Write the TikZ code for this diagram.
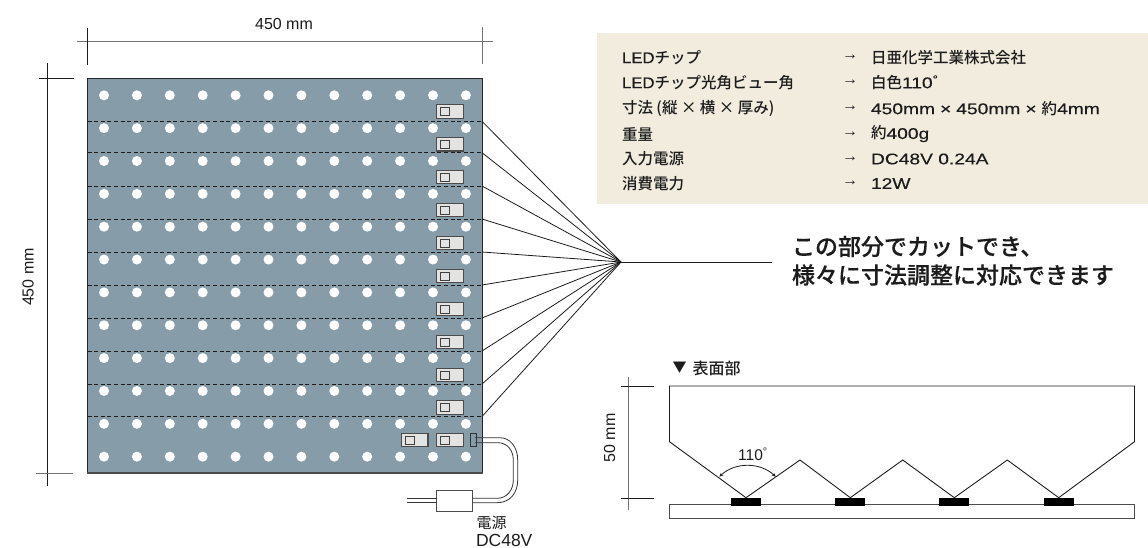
\documentclass[tikz,border=0pt]{standalone}
\usetikzlibrary{arrows.meta}
\usepackage{fontspec}
\setmainfont{Liberation Sans}
\newfontfamily\lat[FakeStretch=1.24,FakeBold=0.25]{Liberation Sans}
\newfontfamily\latb[FakeStretch=1.08,FakeBold=0.25]{Liberation Sans}
\newfontfamily\cjk{Noto Sans CJK JP}
\newfontfamily\cjkm{Noto Sans CJK JP Medium}
\newfontfamily\cjkc[FakeBold=0.35]{Noto Sans CJK JP Medium}
\definecolor{panelc}{HTML}{879CA9}
\definecolor{tablec}{HTML}{F1ECDE}
\definecolor{switchc}{HTML}{E3E3E1}
\definecolor{inkc}{HTML}{1C1C1C}
\tikzset{
  px/.style={inner sep=0pt,outer sep=0pt},
  dimtext/.style={px,font=\fontsize{16}{18}\selectfont,text=inkc},
  tabletext/.style={px,anchor=west,font=\fontsize{15.5}{17}\selectfont\lat,text=inkc},
  cutline/.style={line width=1pt,dash pattern=on 4pt off 2.6pt,draw=inkc},
  thin line/.style={line width=0.8pt,draw=inkc},
  dim grey/.style={line width=1pt,draw=black!55},
  cable/.style={line width=0.8pt,draw=black!80},
  switchbox/.style={px,draw=black!70,fill=switchc,line width=1.2pt,minimum width=26.5pt,minimum height=13.5pt},
  switchin/.style={px,draw=black!75,fill=switchc,line width=0.9pt,minimum width=9.5pt,minimum height=8pt},
  callout/.style={px,anchor=west,font=\fontsize{23}{26}\selectfont\cjkc,text=inkc},
  chip/.style={px,fill=black,minimum width=30pt,minimum height=8pt},
}
\newcommand{\tk}[1]{{\fontsize{15.5}{16}\selectfont\cjkm #1}}
\newcommand{\tx}{\hspace{5pt}×\hspace{5pt}}
\begin{document}
\begin{tikzpicture}[x=1pt,y=-1pt]
\useasboundingbox (0,0) rectangle (1148,547);
\clip (0,0) rectangle (1148,547);
% panel
\fill[panelc] (87.5,78) rectangle (482,473);
\draw[line width=0.9pt,draw=black!85] (87.5,473) -- (87.5,78) -- (482,78) -- (482,473);
\draw[line width=1.3pt,draw=black!70] (87,473) -- (482.5,473);
\foreach \i in {0,...,11}{\foreach \j in {0,...,11}{
  \fill[white] ({104+\i*32.9},{95.3+\j*32.85}) circle (5pt);
}}
% cut lines converge
\coordinate (hub) at (621,262);
\coordinate (calloutend) at (772,262);
\foreach \n/\y in {1/121.3,2/152.7,3/186,4/219,5/252,6/285,7/318,8/351,9/384,10/416.5}{
  \coordinate (L\n) at (87.5,\y);
  \coordinate (R\n) at (482,\y);
  \draw[cutline] (L\n) -- (R\n);
  \draw[thin line] (R\n) -- (hub);
}
\draw[thin line] (hub) -- (calloutend);
% switches
\foreach \n/\y in {1/111.5,2/144.2,3/177,4/210,5/243,6/276,7/309,8/342,9/375,10/407.5,11/440}{
  \node[switchbox] (sw\n) at (450,\y) {};
  \node[switchin] (si\n) at (445,\y) {};
}
\node[switchbox] (swx) at (414.7,440) {};
\node[switchin] (six) at (409.7,440) {};
% connector and cable
\node[px,draw=black!80,fill=panelc,line width=0.9pt,minimum width=6.5pt,minimum height=13.5pt] (conn) at (473.3,440) {};
\node[px,draw=black!70,fill=white,line width=0.9pt,minimum width=36pt,minimum height=21pt] (psu) at (454.5,501.2) {};
\coordinate (ca1) at (475,437.7);
\coordinate (ca2) at (475,442.7);
\coordinate (cb1) at (472.5,498.3);
\coordinate (cb2) at (472.5,502.7);
\coordinate (cc1) at (436.5,498.3);
\coordinate (cc2) at (436.5,502.3);
\coordinate (cd1) at (407,498.3);
\coordinate (cd2) at (407,502.3);
\draw[cable] (ca1) -- (500,437.7) .. controls (510,437.7) and (517.7,447) .. (517.7,460) -- (517.7,480) .. controls (517.7,493) and (510,502.7) .. (497,502.7) -- (cb2);
\draw[cable] (ca2) -- (498,442.7) .. controls (507,442.7) and (513.3,450) .. (513.3,460) -- (513.3,480) .. controls (513.3,490) and (507,498.3) .. (497,498.3) -- (cb1);
\draw[cable] (cc1) -- (cd1);
\draw[cable] (cc2) -- (cd2);
\node[px,anchor=west,font=\fontsize{15}{17}\selectfont\cjk,text=inkc] (psutext) at (476.5,523) {電源};
\node[dimtext,anchor=west,font=\fontsize{17.5}{19}\selectfont] (psuv) at (476,540.4) {DC48V};
% dim 450 top
\draw[dim grey] (77,41) -- (493,41);
\draw[thin line] (87.5,28) -- (87.5,65);
\draw[dim grey] (482,27) -- (482,64);
\node[dimtext] (dimtop) at (284,24) {450 mm};
% dim 450 left
\draw[thin line] (47.5,63) -- (47.5,486);
\draw[thin line] (39,78.5) -- (74,78.5);
\draw[dim grey] (36,473) -- (73,473);
\node[dimtext,rotate=90] (dimleft) at (28,277) {450 mm};
% table
\fill[tablec] (597,33) rectangle (1148,204);
\foreach \n/\y/\a/\b in {
 1/57.3/{{\latb LED}\tk{チップ}}/{\tk{日亜化学工業株式会社}},
 2/82.3/{{\latb LED}\tk{チップ光角ビュー角}}/{\tk{白色}110\textsuperscript{°}},
 3/108.3/{\tk{寸法 (縦 × 横 × 厚み)}}/{450mm\tx 450mm\tx\tk{約}4mm},
 4/134/{\tk{重量}}/{\tk{約}400g},
 5/159/{\tk{入力電源}}/{DC48V 0.24A},
 6/183.5/{\tk{消費電力}}/{12W}}{
  \node[tabletext] (ta\n) at (622,\y) {\a};
  \node[tabletext,font=\fontsize{16}{17}\selectfont] (tr\n) at (842,\y) {→};
  \node[tabletext] (tb\n) at (871,\y) {\b};
}
% callout
\node[callout] (c1) at (792,246.5) {この部分でカットでき、};
\node[callout] (c2) at (792,275) {様々に寸法調整に対応できます};
% section
\node[px,anchor=west,font=\fontsize{14}{16}\selectfont\cjk,text=inkc] (secm) at (672.5,368) {▼};
\node[px,anchor=west,font=\fontsize{16}{18}\selectfont\cjkm,text=inkc] (sect) at (692.5,368) {表面部};
\draw[dim grey] (628,377) -- (628,510);
\draw[thin line] (621,386) -- (654,386);
\draw[thin line] (621,498.3) -- (654,498.3);
\node[dimtext,rotate=90] (dim50) at (609.5,438) {50 mm};
\coordinate (s0) at (669.5,386);
\coordinate (s1) at (669.5,441.7);
\coordinate (p1) at (746,497.7);
\coordinate (v1) at (800,460);
\coordinate (p2) at (850.3,497.7);
\coordinate (v2) at (902.7,460);
\coordinate (p3) at (954.3,497.7);
\coordinate (v3) at (1007.3,460);
\coordinate (p4) at (1058.7,497.7);
\coordinate (s2) at (1134.5,441.7);
\coordinate (s3) at (1134.5,386);
\draw[line width=0.9pt,draw=inkc,line join=miter] (s0) -- (s1) -- (p1) -- (v1) -- (p2) -- (v2) -- (p3) -- (v3) -- (p4) -- (s2) -- (s3) -- cycle;
\node[px,draw=black!70,fill=white,line width=0.9pt,minimum width=465.5pt,minimum height=13.3pt,anchor=north west] (base) at (669,504.7) {};
\foreach \n/\x in {1/746.3,2/850.3,3/954.3,4/1058.7}{\node[chip] (chip\n) at (\x,502) {};}
\coordinate (a1) at (719.3,476.7);
\coordinate (a2) at (775.7,476.7);
\draw[line width=0.8pt,draw=inkc,{Stealth[length=4pt,width=3.5pt]}-{Stealth[length=4pt,width=3.5pt]}] (a1) .. controls (735,462) and (760,462) .. (a2);
\node[dimtext,font=\fontsize{15.5}{17}\selectfont] (ang) at (753,454) {110\textsuperscript{°}};
\end{tikzpicture}
\end{document}
